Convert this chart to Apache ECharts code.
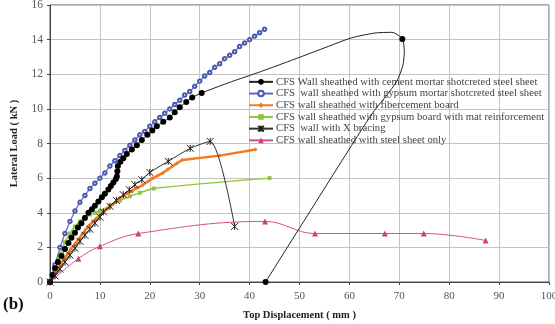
<!DOCTYPE html>
<html>
<head>
<meta charset="utf-8">
<script src="https://cdn.jsdelivr.net/npm/echarts@6/dist/echarts.min.js"></script>
<style>html,body{margin:0;padding:0;background:#fff}#c{width:555px;height:324px}</style>
</head>
<body>
<div id="c"></div>
<script>
// Tick labels
var xTicks = [0, 10, 20, 30, 40, 50, 60, 70, 80, 90, 100];
var yTicks = [0, 2, 4, 6, 8, 10, 12, 14, 16];

var seriesNames = [
  'CFS Wall sheathed with cement mortar shotcreted steel sheet',
  'CFS  wall sheathed with gypsum mortar shotcreted steel sheet',
  'CFS wall sheathed with fibercement board',
  'CFS wall sheathed with gypsum board with mat reinforcement',
  'CFS  wall with X bracing',
  'CFS wall sheathed with steel sheet only'
];

// [displacement mm, load kN, marker(1)/curve-only(0)]
var cement = [
  [0,0,1],[0.5,0.4,1],[1,0.8,1],[1.6,1.15,1],[2.3,1.5,1],[3,1.9,1],[3.7,2.25,1],[4.3,2.55,1],
  [5,2.85,1],[5.6,3.15,1],[6.3,3.4,1],[7,3.7,1],[7.7,4.0,1],[8.4,4.2,1],[9,4.4,1],[9.7,4.65,1],
  [10.4,4.9,1],[11,5.1,1],[11.7,5.35,1],[12.2,5.55,1],[12.7,5.75,1],[13.2,5.95,1],[13.4,6.1,1],
  [13.5,6.4,1],[13.6,6.7,1],[14.1,6.95,1],[14.7,7.15,1],[15.4,7.4,1],[16.4,7.65,1],[17.4,7.9,1],
  [18.4,8.2,1],[19.5,8.5,1],[20.5,8.75,1],[21.4,9.0,1],[22.7,9.25,1],[24,9.5,1],[25,9.8,1],
  [26,10.1,1],[27.3,10.4,1],[28.5,10.65,1],[30.4,10.92,1],
  [35.7,11.5,0],[42.4,12.17,0],[49.1,12.88,0],[55.8,13.61,0],[60.4,14.1,0],[65.1,14.38,0],
  [68.5,14.42,0],[70.6,14.04,1],[71,13.3,0],[70.7,12.5,0],[69.5,11.6,0],[67.5,10.8,0],
  [65,9.9,0],[62,8.6,0],[43.2,0,1]
];
var gypsumMortar = [
  [0,0],[1,1.0],[2,2.0],[3,2.8],[4,3.5],[5,4.1],[6,4.6],[7,5.0],[8,5.4],[9,5.7],[10,6.0],
  [11,6.3],[12,6.7],[13,7.0],[14,7.3],[15,7.6],[16,7.9],[17,8.2],[18,8.5],[19,8.7],[20,9.0],
  [21,9.25],[22,9.5],[23,9.75],[24,10.0],[25,10.25],[26,10.5],[27,10.8],[28,11.0],[29,11.3],
  [30,11.6],[31,11.9],[32,12.1],[33,12.4],[34,12.6],[35,12.9],[36,13.1],[37,13.3],[38,13.6],
  [39,13.8],[40,14.0],[41,14.2],[42,14.4],[43,14.6]
];
var fibercement = [
  [0,0],[0.7,0.3],[1.4,0.65],[2.1,1.0],[2.8,1.3],[3.5,1.6],[4.2,1.9],[5,2.2],[5.7,2.45],
  [6.4,2.75],[7.1,3.0],[7.8,3.25],[8.5,3.45],[9.2,3.65],[10,3.85],[10.8,4.05],[11.6,4.25],
  [12.4,4.45],[13.2,4.65],[14,4.85],[14.8,5.0],[15.7,5.15],[16.6,5.3],[17.6,5.45],[18.6,5.6],
  [19.6,5.8],[20.6,6.0],[21.6,6.15],[22.6,6.3],[23.6,6.5],[24.6,6.7],[25.4,6.85],[26.5,7.05],
  [34,7.3],[41.2,7.65]
];
var gypsumBoard = [
  [0,0],[1,0.8],[2,1.6],[3,2.3],[4,2.8],[5,3.2],[6,3.5],[7,3.75],[8,3.9],[9,4.0],[10,4.1],
  [12,4.4],[14,4.7],[16,4.95],[18,5.15],[20.8,5.4],[44,6.0]
];
var xBracing = [
  [0,0],[1,0.35],[2,0.75],[3,1.15],[4,1.55],[5,1.95],[6,2.35],[7,2.7],[8,3.05],[9,3.4],
  [10,3.75],[10.7,4.05],[12,4.37],[13.3,4.71],[14.7,5.04],[15.9,5.33],[17,5.62],[18.4,5.91],
  [20,6.33],[23.7,6.97],[28.1,7.72],[32.1,8.12],[37,3.21]
];
var steelSheet = [
  [0,0],[5.7,1.35],[10,2.06],[17.7,2.8],[43.1,3.5],[53.1,2.8],[67.1,2.8],[74.9,2.8],[87.3,2.4]
];

var FONT = '"Liberation Serif", "Times New Roman", serif';
var xStar = 'path://M0,0L10,10M10,0L0,10M5,0L5,10';

function mk(arr) {
  return arr.map(function (p) {
    var o = { value: [p[0], p[1]] };
    if (p.length > 2 && !p[2]) o.symbol = 'none';
    return o;
  });
}

var chart = echarts.init(document.getElementById('c'), null, { renderer: 'canvas' });
chart.setOption({
  animation: false,
  backgroundColor: '#fff',
  textStyle: { fontFamily: FONT },
  grid: { left: 50, right: 6, top: 5, bottom: 42, show: true, borderColor: '#555', borderWidth: 1,
    containLabel: false, outerBoundsMode: 'none' },
  graphic: [{
    type: 'text', left: 3, top: 296,
    style: { text: '(b)', font: 'bold 17px ' + FONT, fill: '#111' }
  }],
  legend: {
    orient: 'vertical', left: 243, top: 71, itemGap: 0,
    itemWidth: 24, itemHeight: 7,
    textStyle: { fontFamily: FONT, fontSize: 10.7, color: '#444', lineHeight: 11.7, padding: [0, 0, 0, -2] },
    data: seriesNames
  },
  xAxis: {
    type: 'value', min: 0, max: 100, interval: 10,
    name: 'Top Displacement ( mm )', nameLocation: 'middle', nameGap: 28,
    nameTextStyle: { fontFamily: FONT, fontWeight: 'bold', fontSize: 10.5, color: '#222' },
    axisLine: { show: true, lineStyle: { color: '#444', width: 1 } },
    axisTick: { show: true, length: 3, lineStyle: { color: '#444' } },
    axisLabel: { fontFamily: FONT, fontSize: 11, color: '#555', margin: 9, hideOverlap: false,
      formatter: function (v) { return xTicks.indexOf(v) >= 0 ? String(v) : ''; } },
    splitLine: { show: true, lineStyle: { color: '#c4c4c4', width: 1 } }
  },
  yAxis: {
    type: 'value', min: 0, max: 16, interval: 2,
    name: 'Lateral Load ( kN )', nameLocation: 'middle', nameGap: 30,
    nameTextStyle: { fontFamily: FONT, fontWeight: 'bold', fontSize: 10.5, color: '#222' },
    axisLine: { show: true, lineStyle: { color: '#444', width: 1 } },
    axisTick: { show: true, length: 3, lineStyle: { color: '#444' } },
    axisLabel: { fontFamily: FONT, fontSize: 11.5, color: '#555', margin: 7,
      formatter: function (v) { return yTicks.indexOf(v) >= 0 ? String(v) : ''; } },
    splitLine: { show: true, lineStyle: { color: '#c4c4c4', width: 1 } }
  },
  series: [
    { name: seriesNames[0], type: 'line', data: mk(cement), smooth: 0.25,
      symbol: 'circle', symbolSize: 6, color: '#000',
      lineStyle: { color: '#222', width: 1 }, itemStyle: { color: '#000' }, z: 5 },
    { name: seriesNames[1], type: 'line', data: gypsumMortar,
      symbol: 'emptyCircle', symbolSize: 3.5, color: '#4a58b0',
      lineStyle: { color: '#5a68c0', width: 1.2 }, itemStyle: { color: '#4a58b0', borderWidth: 1.2 }, z: 4 },
    { name: seriesNames[2], type: 'line', data: fibercement,
      symbol: 'diamond', symbolSize: 4, color: '#f47a22',
      lineStyle: { color: '#f47a22', width: 2.5 }, itemStyle: { color: '#f47a22' }, z: 3 },
    { name: seriesNames[3], type: 'line', data: gypsumBoard, smooth: 0.3,
      symbol: 'rect', symbolSize: 4, color: '#8cc63f',
      lineStyle: { color: '#8cc63f', width: 1.5 }, itemStyle: { color: '#8cc63f' }, z: 2 },
    { name: seriesNames[4], type: 'line', data: xBracing, smooth: 0.25,
      symbol: xStar, symbolSize: 7, color: '#222',
      lineStyle: { color: '#333', width: 1 }, itemStyle: { color: 'none', borderColor: '#222', borderWidth: 1 }, z: 6 },
    { name: seriesNames[5], type: 'line', data: steelSheet, smooth: 0.4,
      symbol: 'triangle', symbolSize: 6, color: '#d4508a',
      lineStyle: { color: '#d4508a', width: 1 }, itemStyle: { color: '#c8407e' }, z: 2 }
  ]
});
</script>
</body>
</html>
